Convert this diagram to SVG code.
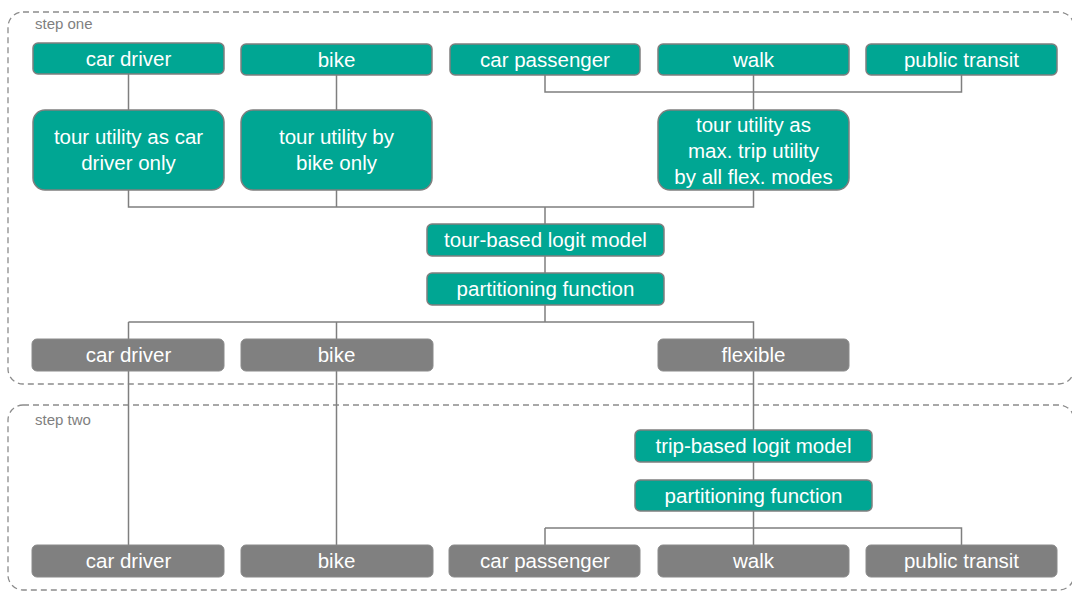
<svg xmlns="http://www.w3.org/2000/svg" width="1072" height="592" viewBox="0 0 1072 592">
<style>
.t{fill:#00A693;stroke:#7f7f7f;stroke-width:1.5}
.g{fill:#808080;stroke:#8a8a8a;stroke-width:1}
.lb{font-family:"Liberation Sans",Arial,sans-serif;font-size:20.5px;fill:#ffffff;text-anchor:middle;dominant-baseline:central}
.c{fill:none;stroke:#7f7f7f;stroke-width:1.5}
.box{fill:none;stroke:#8c8c8c;stroke-width:1.3;stroke-dasharray:6 4}
.st{font-family:"Liberation Sans",Arial,sans-serif;font-size:15px;fill:#7f7f7f}
</style>
<g id="containers">
<rect class="box" x="8" y="12" width="1066" height="372" rx="15"/>
<text class="st" x="35" y="29">step one</text>
<rect class="box" x="8" y="405" width="1066" height="185" rx="15"/>
<text class="st" x="35" y="425">step two</text>
</g>
<g id="connectors">
<path class="c" d="M128.5 74V110M336.5 74V110"/>
<path class="c" d="M545 74V92H961.5V74M753.5 74V110"/>
<path class="c" d="M128.5 190V207H753.5V190M336.5 190V207M545 207V224"/>
<path class="c" d="M545 256V273M545 305V322"/>
<path class="c" d="M128.5 322H753.5V339M128.5 322V545M336.5 322V545"/>
<path class="c" d="M753.5 371V430M753.5 462V480M753.5 511V545M545 528H961.5V545M545 528V545"/>
</g>
<g id="n1"><rect class="t" x="33" y="43" width="191" height="31" rx="5"/><text class="lb" x="128.5" y="58">car driver</text></g>
<g id="n2"><rect class="t" x="241" y="44" width="191" height="31" rx="5"/><text class="lb" x="336.5" y="59">bike</text></g>
<g id="n3"><rect class="t" x="450" y="44" width="190" height="31" rx="5"/><text class="lb" x="545" y="59">car passenger</text></g>
<g id="n4"><rect class="t" x="658" y="44" width="191" height="31" rx="5"/><text class="lb" x="753.5" y="59">walk</text></g>
<g id="n5"><rect class="t" x="866" y="44" width="191" height="31" rx="5"/><text class="lb" x="961.5" y="59">public transit</text></g>
<g id="n6"><rect class="t" x="33" y="110" width="191" height="80" rx="12"/><text class="lb" x="128.5" y="136">tour utility as car</text><text class="lb" x="128.5" y="162">driver only</text></g>
<g id="n7"><rect class="t" x="241" y="110" width="191" height="80" rx="12"/><text class="lb" x="336.5" y="136">tour utility by</text><text class="lb" x="336.5" y="162">bike only</text></g>
<g id="n8"><rect class="t" x="658" y="110" width="191" height="80" rx="12"/><text class="lb" x="753.5" y="124">tour utility as</text><text class="lb" x="753.5" y="150">max. trip utility</text><text class="lb" x="753.5" y="176">by all flex. modes</text></g>
<g id="n9"><rect class="t" x="427" y="224" width="237" height="32" rx="5"/><text class="lb" x="545.5" y="239">tour-based logit model</text></g>
<g id="n10"><rect class="t" x="427" y="273" width="237" height="32" rx="5"/><text class="lb" x="545.5" y="288">partitioning function</text></g>
<g id="n11"><rect class="g" x="32" y="339" width="192" height="32" rx="5"/><text class="lb" x="128.5" y="354">car driver</text></g>
<g id="n12"><rect class="g" x="241" y="339" width="192" height="32" rx="5"/><text class="lb" x="336.5" y="354">bike</text></g>
<g id="n13"><rect class="g" x="658" y="339" width="191" height="32" rx="5"/><text class="lb" x="753.5" y="354">flexible</text></g>
<g id="n14"><rect class="t" x="635" y="430" width="237" height="32" rx="5"/><text class="lb" x="753.5" y="445">trip-based logit model</text></g>
<g id="n15"><rect class="t" x="635" y="480" width="237" height="31" rx="5"/><text class="lb" x="753.5" y="495">partitioning function</text></g>
<g id="n16"><rect class="g" x="32" y="545" width="192" height="32" rx="5"/><text class="lb" x="128.5" y="560">car driver</text></g>
<g id="n17"><rect class="g" x="241" y="545" width="192" height="32" rx="5"/><text class="lb" x="336.5" y="560">bike</text></g>
<g id="n18"><rect class="g" x="449" y="545" width="191" height="32" rx="5"/><text class="lb" x="545" y="560">car passenger</text></g>
<g id="n19"><rect class="g" x="658" y="545" width="191" height="32" rx="5"/><text class="lb" x="753.5" y="560">walk</text></g>
<g id="n20"><rect class="g" x="866" y="545" width="191" height="32" rx="5"/><text class="lb" x="961.5" y="560">public transit</text></g>
</svg>
